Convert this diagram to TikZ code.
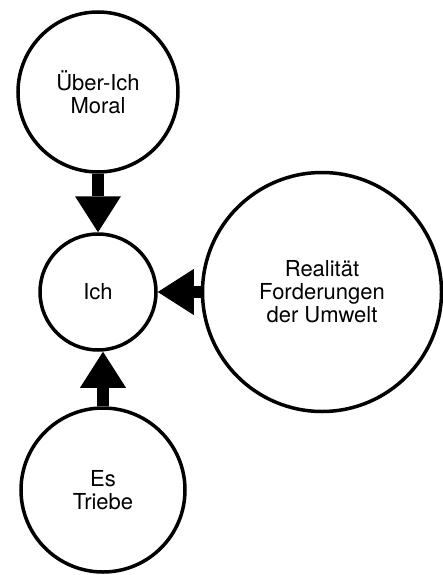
\documentclass[tikz,border=0pt]{standalone}
\usepackage{fontspec}
\setmainfont{TeX Gyre Heros}
\usepackage{tikz}
\usetikzlibrary{arrows.meta}

\begin{document}
\begin{tikzpicture}[x=1pt,y=-1pt,
    instanz/.style={circle, draw=black, line width=3.5pt, align=center,
        font=\fontsize{22}{23}\selectfont, inner sep=0pt},
    pfeil/.style={line width=12pt,
        -{Triangle[length=36pt,width=46pt,line width=0pt]}}]
    \useasboundingbox (0,0) rectangle (443,575);

    \node[instanz, minimum size=160pt] (ueberich) at (98,92)   {Über-Ich\\Moral};
    \node[instanz, minimum size=116pt] (ich)      at (98,292)  {Ich};
    \node[instanz, minimum size=239pt] (realitaet) at (322,292) {Realität\\Forderungen\\der Umwelt};
    \node[instanz, minimum size=164pt] (es)       at (103,490) {Es\\Triebe};

    \draw[pfeil] (ueberich) -- (ich);
    \draw[pfeil] (realitaet) -- (ich);
    \draw[pfeil] (es) -- (es |- ich.south);

\end{tikzpicture}
\end{document}
